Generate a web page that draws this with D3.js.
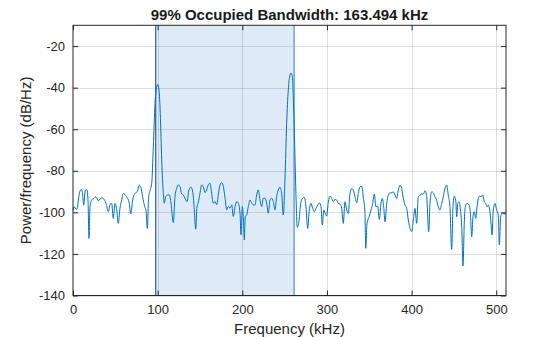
<!DOCTYPE html>
<html>
<head>
<meta charset="utf-8">
<script src="https://cdn.jsdelivr.net/npm/d3@7/dist/d3.min.js"></script>
<style>
  html, body { margin: 0; padding: 0; background: #fff; }
  svg { display: block; font-family: "Liberation Sans", Arial, Helvetica, sans-serif; }
</style>
</head>
<body>
<svg id="chart" width="560" height="337"></svg>
<script>
// Power spectral density estimate (kHz, dB/Hz)
const freqKHz = [
  0, 1.2, 4.4, 7.5, 9.5, 11.0, 12.6, 14.6, 16.2, 17.7, 18.9, 20.1, 22.1, 24.8, 27.2, 29.9,
  33.9, 35.8, 39.0, 41.7, 43.7, 45.7, 47.6, 49.6, 51.6, 53.5, 55.5, 57.5, 59.4, 61.4, 63.4,
  66.5, 68.2, 70.5, 73.2, 76.0, 78.3, 80.0, 82.3, 84.7, 86.2, 87.8, 89.4, 91.0, 93.0, 94.9,
  96.9, 98.9, 100.1, 101.6, 103.1, 104.8, 106.7, 107.9, 109.5, 111.9, 113.8, 115.8, 118.5,
  120.5, 122.5, 124.4, 126.4, 128.4, 130.3, 132.3, 134.7, 137.0, 139.4, 141.8, 143.3, 144.9,
  146.5, 148.0, 150.0, 152.0, 153.9, 155.9, 157.9, 159.8, 161.8, 163.8, 165.7, 167.7, 169.8,
  171.6, 173.7, 175.7, 177.6, 179.6, 181.6, 183.5, 185.5, 187.5, 189.4, 191.4, 193.4, 195.3,
  197.3, 198.5, 200.0, 201.2, 202.4, 203.5, 205.2, 207.1, 209.1, 211.1, 213.0, 215.0, 217.0,
  218.9, 220.9, 222.9, 224.8, 226.8, 228.8, 230.7, 232.7, 234.7, 236.6, 238.6, 240.6, 242.5,
  244.5, 246.5, 248.4, 250.4, 252.4, 254.3, 256.3, 257.5, 259.1, 261.1, 263.1, 265.0, 267.0,
  269.0, 270.9, 273.3, 275.2, 277.2, 279.1, 281.1, 283.1, 285.0, 287.1, 289.1, 291.0, 293.0,
  294.5, 296.2, 297.7, 299.7, 301.6, 303.6, 305.6, 307.5, 309.5, 311.5, 313.4, 315.4, 317.4,
  319.3, 321.3, 323.3, 325.2, 327.2, 329.2, 331.1, 333.1, 335.1, 337.0, 339.0, 341.0, 342.9,
  344.9, 345.8, 347.3, 349.7, 352.0, 354.0, 355.9, 357.9, 359.9, 361.8, 363.8, 365.4, 367.0,
  368.6, 370.6, 372.5, 374.5, 376.5, 378.4, 380.4, 382.4, 384.3, 386.3, 388.3, 390.2, 392.2,
  394.2, 396.1, 398.1, 400.1, 402.0, 404.0, 406.0, 407.9, 409.9, 411.9, 413.8, 415.8, 417.8,
  420.2, 421.7, 423.7, 425.6, 427.6, 429.6, 431.5, 433.5, 435.5, 437.4, 439.4, 441.4, 443.3,
  445.3, 447.3, 448.9, 450.4, 452.1, 453.3, 454.5, 456.0, 457.5, 459.2, 460.7, 462.3, 463.9,
  465.4, 467.8, 469.3, 471.0, 472.5, 474.1, 475.7, 477.3, 478.8, 480.4, 482.0, 484.0, 485.9,
  487.5, 489.1, 490.6, 492.3, 493.8, 495.0, 496.5, 498.5, 500.5, 502.4, 503.6, 505.2, 507.1,
  509.1, 511.5
];
const powerDb = [
  -99.2, -97.3, -98.6, -90.9, -89.0, -90.0, -96.5, -89.3, -89.0, -94.0, -112.5, -97.3, -94.0, -93.3, -92.5, -94.4,
  -93.0, -93.3, -95.7, -99.7, -96.2, -95.7, -102.9, -95.7, -98.6, -105.3, -98.0, -94.0, -90.9, -91.4, -92.5,
  -95.7, -100.8, -94.0, -90.9, -90.0, -86.9, -87.7, -92.5, -97.3, -98.9, -107.7, -92.5, -89.5, -86.0, -68.4,
  -47.6, -39.6, -38.5, -41.2, -52.4, -74.8, -90.8, -95.6, -92.4, -91.6, -91.6, -95.6, -104.9,
  -92.4, -88.4, -86.8, -87.6, -91.1, -91.6, -93.2, -94.8, -89.2, -87.9, -91.1, -98.8, -108.1,
  -97.2, -95.3, -90.8, -86.8, -87.6, -90.5, -89.2, -86.8, -86.0, -90.8, -95.6, -94.8, -96.4,
  -91.6, -86.8, -85.7, -87.6, -93.0, -98.8, -97.2, -98.0, -96.4, -102.0, -97.2, -94.8, -95.6,
  -100.4, -110.8, -97.2, -102.0, -113.2, -102.0, -101.2, -97.2, -94.0, -95.6, -96.4, -96.4, -91.6,
  -89.2, -94.0, -97.2, -93.2, -93.2, -95.6, -100.4, -94.0, -93.2, -94.8, -98.8, -92.4, -89.2,
  -87.9, -90.8, -101.2, -84.4, -57.2, -41.2, -34.0, -33.0, -34.8, -55.6, -87.6, -107.2, -104.0,
  -95.7, -93.3, -92.8, -97.3, -107.7, -98.9, -95.7, -98.1, -99.7, -98.1, -96.5, -95.4, -97.3,
  -106.1, -98.9, -100.2, -101.8, -94.9, -92.2, -93.3, -94.9, -93.8, -94.1, -95.7, -96.0, -98.1,
  -105.3, -94.9, -98.9, -100.5, -90.9, -88.5, -89.3, -92.5, -95.4, -90.9, -87.7, -87.4, -92.5,
  -100.5, -117.3, -105.3, -102.1, -98.9, -95.8, -91.2, -97.3, -97.0, -103.4, -95.7, -93.3, -97.3,
  -104.5, -95.7, -91.7, -90.6, -90.6, -90.1, -91.7, -93.3, -89.3, -86.9, -88.5, -93.3, -96.5,
  -98.1, -103.7, -107.7, -109.3, -103.7, -98.1, -105.3, -92.5, -91.7, -91.2, -91.2, -89.6, -92.5,
  -109.3, -95.7, -90.1, -90.6, -92.5, -94.1, -97.3, -98.9, -95.7, -92.5, -88.5, -86.9, -91.7,
  -97.3, -117.8, -97.3, -92.2, -94.1, -102.1, -95.7, -94.9, -98.1, -106.9, -125.8, -103.7, -96.5,
  -95.7, -96.5, -99.7, -111.7, -102.1, -99.7, -102.9, -97.3, -93.3, -92.2, -92.5, -91.7, -94.9,
  -95.7, -97.3, -96.5, -98.9, -105.3, -110.9, -98.9, -95.7, -98.9, -101.3, -115.7, -102.1, -100.5,
  -100.8, -100.5
];

// Occupied band limits (kHz)
const obwLowKHz = 97.7;
const obwHighKHz = 261.194;
const obwPercent = 99;

const xTicks = [0, 100, 200, 300, 400, 500];
const yTicks = [-140, -120, -100, -80, -60, -40, -20];

const titleText = `${obwPercent}% Occupied Bandwidth: ${(obwHighKHz - obwLowKHz).toFixed(3)} kHz`;
const xLabelText = "Frequency (kHz)";
const yLabelText = "Power/frequency (dB/Hz)";

const svg = d3.select("#chart");
const margin = { left: 73, right: 54, top: 25.3, bottom: 41.5 };
const W = 560, H = 337;

const x = d3.scaleLinear().domain([0, 511.5]).range([margin.left, W - margin.right]);
const y = d3.scaleLinear().domain([-140, -10]).range([H - margin.bottom, margin.top]);

const axisColor = "#262626";
const plainNumber = d => String(d);   // ASCII hyphen for negative values

// occupied band shading
svg.append("rect")
  .attr("x", x(obwLowKHz))
  .attr("y", y(-10))
  .attr("width", x(obwHighKHz) - x(obwLowKHz))
  .attr("height", y(-140) - y(-10))
  .attr("fill", "#deebf6");

// grid
const grid = svg.append("g").attr("stroke", "rgba(38,38,38,0.15)").attr("stroke-width", 1);
xTicks.slice(1).forEach(t => {
  grid.append("line")
    .attr("x1", Math.round(x(t)) + 0.5).attr("x2", Math.round(x(t)) + 0.5)
    .attr("y1", y(-10)).attr("y2", y(-140));
});
yTicks.forEach(t => {
  grid.append("line")
    .attr("x1", x(0)).attr("x2", x(511.5))
    .attr("y1", Math.round(y(t)) + 0.5).attr("y2", Math.round(y(t)) + 0.5);
});

// band edges
svg.append("line")
  .attr("x1", x(obwLowKHz)).attr("x2", x(obwLowKHz))
  .attr("y1", y(-10)).attr("y2", y(-140))
  .attr("stroke", "#2e5f95").attr("stroke-width", 1.2);
svg.append("line")
  .attr("x1", x(obwHighKHz)).attr("x2", x(obwHighKHz))
  .attr("y1", y(-10)).attr("y2", y(-140))
  .attr("stroke", "#7fb1de").attr("stroke-width", 1.8);

// PSD curve
const pts = freqKHz.map((f, i) => [f, powerDb[i]]);
const line = d3.line().x(d => x(d[0])).y(d => y(d[1])).curve(d3.curveMonotoneX);
svg.append("path")
  .attr("d", line(pts))
  .attr("fill", "none")
  .attr("stroke", "#0072BD")
  .attr("stroke-width", 1)
  .attr("stroke-linejoin", "round");

// axes with inward ticks on all four sides
const tickLen = 5;
const xAxisB = d3.axisBottom(x).tickValues(xTicks).tickSizeInner(-tickLen).tickSizeOuter(0).tickPadding(9).tickFormat(plainNumber);
const xAxisT = d3.axisTop(x).tickValues(xTicks).tickSizeInner(-tickLen).tickSizeOuter(0).tickFormat("");
const yAxisL = d3.axisLeft(y).tickValues(yTicks).tickSizeInner(-tickLen).tickSizeOuter(0).tickPadding(8).tickFormat(plainNumber);
const yAxisR = d3.axisRight(y).tickValues(yTicks).tickSizeInner(-tickLen).tickSizeOuter(0).tickFormat("");

function styleAxis(g) {
  g.select(".domain").remove();
  g.selectAll("line").attr("stroke", axisColor);
  g.selectAll("text").attr("fill", axisColor).attr("font-size", 13)
    .attr("font-family", "'Liberation Sans', Arial, sans-serif");
}

svg.append("g").attr("transform", `translate(0,${y(-140)})`).call(xAxisB).call(styleAxis);
svg.append("g").attr("transform", `translate(0,${y(-10)})`).call(xAxisT).call(styleAxis);
svg.append("g").attr("transform", `translate(${x(0)},0)`).call(yAxisL).call(styleAxis);
svg.append("g").attr("transform", `translate(${x(511.5)},0)`).call(yAxisR).call(styleAxis);

// box
svg.append("rect")
  .attr("x", x(0)).attr("y", y(-10))
  .attr("width", x(511.5) - x(0)).attr("height", y(-140) - y(-10))
  .attr("fill", "none").attr("stroke", axisColor).attr("stroke-width", 1);

// title and labels
svg.append("text")
  .attr("x", (x(0) + x(511.5)) / 2).attr("y", 19.5)
  .attr("text-anchor", "middle").attr("font-size", 15).attr("font-weight", "bold")
  .attr("fill", "#1a1a1a").text(titleText);

svg.append("text")
  .attr("x", (x(0) + x(511.5)) / 2).attr("y", 333.5)
  .attr("text-anchor", "middle").attr("font-size", 15)
  .attr("fill", axisColor).text(xLabelText);

svg.append("text")
  .attr("transform", `translate(31,${(y(-10) + y(-140)) / 2}) rotate(-90)`)
  .attr("text-anchor", "middle").attr("font-size", 15)
  .attr("fill", axisColor).text(yLabelText);
</script>
</body>
</html>
